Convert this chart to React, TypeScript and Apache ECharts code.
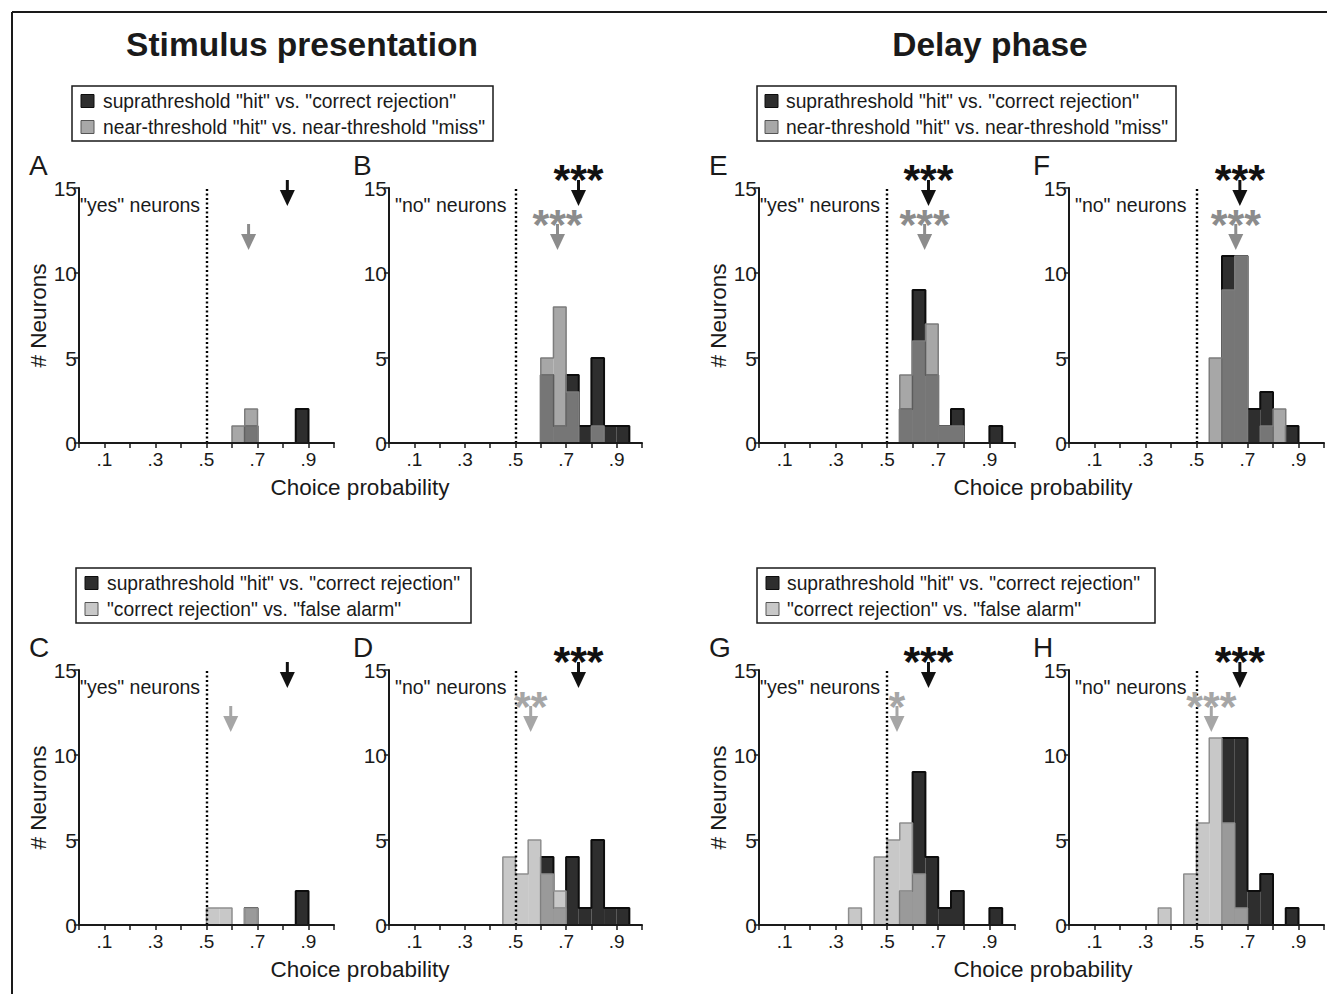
import React, { useEffect, useRef } from "react";
import * as echarts from "echarts";

// ---------- DATA ----------
const binStarts = [0, 0.05, 0.1, 0.15, 0.2, 0.25, 0.3, 0.35, 0.4, 0.45, 0.5, 0.55, 0.6, 0.65, 0.7, 0.75, 0.8, 0.85, 0.9, 0.95];
const BIN_W = 0.05;
const xTickLabels = [".1", ".3", ".5", ".7", ".9"];
const yTicks = [0, 5, 10, 15];

// Stimulus presentation, "yes" neurons
const A_supra = [0, 0, 0, 0, 0, 0, 0, 0, 0, 0, 0, 0, 0, 1, 0, 0, 0, 2, 0, 0];
const A_near = [0, 0, 0, 0, 0, 0, 0, 0, 0, 0, 0, 0, 1, 2, 0, 0, 0, 0, 0, 0];
// Stimulus presentation, "no" neurons
const B_supra = [0, 0, 0, 0, 0, 0, 0, 0, 0, 0, 0, 0, 4, 1, 4, 1, 5, 1, 1, 0];
const B_near = [0, 0, 0, 0, 0, 0, 0, 0, 0, 0, 0, 0, 5, 8, 3, 0, 1, 0, 0, 0];
const C_supra = [0, 0, 0, 0, 0, 0, 0, 0, 0, 0, 0, 0, 0, 1, 0, 0, 0, 2, 0, 0];
const C_cr = [0, 0, 0, 0, 0, 0, 0, 0, 0, 0, 1, 1, 0, 1, 0, 0, 0, 0, 0, 0];
const D_supra = [0, 0, 0, 0, 0, 0, 0, 0, 0, 0, 0, 0, 4, 1, 4, 1, 5, 1, 1, 0];
const D_cr = [0, 0, 0, 0, 0, 0, 0, 0, 0, 4, 3, 5, 3, 2, 0, 0, 0, 0, 0, 0];
// Delay phase
const E_supra = [0, 0, 0, 0, 0, 0, 0, 0, 0, 0, 0, 2, 9, 4, 1, 2, 0, 0, 1, 0];
const E_near = [0, 0, 0, 0, 0, 0, 0, 0, 0, 0, 0, 4, 6, 7, 1, 1, 0, 0, 0, 0];
const F_supra = [0, 0, 0, 0, 0, 0, 0, 0, 0, 0, 0, 0, 11, 11, 2, 3, 0, 1, 0, 0];
const F_near = [0, 0, 0, 0, 0, 0, 0, 0, 0, 0, 0, 5, 9, 11, 0, 1, 2, 0, 0, 0];
const G_supra = [0, 0, 0, 0, 0, 0, 0, 0, 0, 0, 0, 2, 9, 4, 1, 2, 0, 0, 1, 0];
const G_cr = [0, 0, 0, 0, 0, 0, 0, 1, 0, 4, 5, 6, 3, 0, 0, 0, 0, 0, 0, 0];
const H_supra = [0, 0, 0, 0, 0, 0, 0, 0, 0, 0, 0, 0, 11, 11, 2, 3, 0, 1, 0, 0];
const H_cr = [0, 0, 0, 0, 0, 0, 0, 1, 0, 3, 6, 11, 6, 1, 0, 0, 0, 0, 0, 0];

// mean choice probabilities (arrows), panels A..H
const meanSupra = [0.817, 0.749, 0.817, 0.749, 0.662, 0.67, 0.662, 0.67];
const meanOther = [0.665, 0.666, 0.595, 0.56, 0.647, 0.654, 0.539, 0.558];
const starsSupra = ["", "***", "", "***", "***", "***", "***", "***"];
const starsOther = ["", "***", "", "**", "***", "***", "*", "***"];

const legendSupra = 'suprathreshold "hit" vs. "correct rejection"';
const legendNear = 'near-threshold "hit" vs. near-threshold "miss"';
const legendCR = '"correct rejection" vs. "false alarm"';

// ---------- STYLE / LAYOUT ----------
const FONT = '"Liberation Sans", Arial, Helvetica, sans-serif';
const INK = "#1a1a1a";
const DARK_FILL = "#2e2e2e";
const DARK_STROKE = "#0d0d0d";
const NEAR = { fill: "rgba(141,141,141,0.77)", stroke: "#7c7c7c", solid: "#a8a8a8", arrow: "#8c8c8c" };
const CR = { fill: "rgba(184,184,184,0.78)", stroke: "#8e8e8e", solid: "#c8c8c8", arrow: "#a6a6a6" };

const ROW_TOP = [188, 670];
const PLOT_H = 255;

const panels = [
  { letter: "A", left: 79, width: 255, row: 0, supra: A_supra, other: A_near, pal: NEAR, kind: "yes", yName: true },
  { letter: "B", left: 389, width: 253, row: 0, supra: B_supra, other: B_near, pal: NEAR, kind: "no", yName: false },
  { letter: "C", left: 79, width: 255, row: 1, supra: C_supra, other: C_cr, pal: CR, kind: "yes", yName: true },
  { letter: "D", left: 389, width: 253, row: 1, supra: D_supra, other: D_cr, pal: CR, kind: "no", yName: false },
  { letter: "E", left: 759, width: 256, row: 0, supra: E_supra, other: E_near, pal: NEAR, kind: "yes", yName: true },
  { letter: "F", left: 1069, width: 255, row: 0, supra: F_supra, other: F_near, pal: NEAR, kind: "no", yName: false },
  { letter: "G", left: 759, width: 256, row: 1, supra: G_supra, other: G_cr, pal: CR, kind: "yes", yName: true },
  { letter: "H", left: 1069, width: 255, row: 1, supra: H_supra, other: H_cr, pal: CR, kind: "no", yName: false },
];

function barData(counts: number[]) {
  return binStarts
    .map((s, j) => [s, s + BIN_W, counts[j]])
    .filter((d) => d[2] > 0);
}

function outline(counts: number[]) {
  const pts: any[] = [];
  let inRun = false;
  for (let j = 0; j < counts.length; j++) {
    const c = counts[j];
    const s = binStarts[j];
    if (c > 0) {
      if (!inRun) {
        pts.push([s, 0]);
        inRun = true;
      }
      pts.push([s, c]);
      pts.push([s + BIN_W, c]);
    } else if (inRun) {
      pts.push([s, 0]);
      pts.push(["-", "-"]);
      inRun = false;
    }
  }
  if (inRun) pts.push([binStarts[binStarts.length - 1] + BIN_W, 0]);
  return pts;
}

function rectRenderer(fill: string) {
  return (params: any, api: any) => {
    const p0 = api.coord([api.value(0), api.value(2)]);
    const p1 = api.coord([api.value(1), 0]);
    return {
      type: "rect",
      shape: { x: p0[0], y: p0[1], width: p1[0] - p0[0], height: p1[1] - p0[1] },
      style: { fill },
    };
  };
}

function buildOption() {
  const grid: any[] = [];
  const xAxis: any[] = [];
  const yAxis: any[] = [];
  const series: any[] = [];
  const graphic: any[] = [];

  panels.forEach((p, i) => {
    const top = ROW_TOP[p.row];
    grid.push({ left: p.left, top, width: p.width, height: PLOT_H, show: false, containLabel: false });
    xAxis.push({
      type: "value",
      gridIndex: i,
      min: 0,
      max: 1,
      interval: 0.1,
      z: 10,
      splitLine: { show: false },
      axisLine: { onZero: false, lineStyle: { color: INK, width: 2 } },
      axisTick: { length: 5, lineStyle: { color: INK, width: 1.5 } },
      axisLabel: {
        fontFamily: FONT,
        fontSize: 19,
        color: INK,
        margin: 7,
        formatter: (v: number) => {
          const k = Math.round(v * 10);
          return k % 2 === 1 ? xTickLabels[(k - 1) / 2] : "";
        },
      },
    });
    yAxis.push({
      type: "value",
      gridIndex: i,
      min: 0,
      max: 15,
      interval: 5,
      z: 10,
      splitLine: { show: false },
      axisLine: { lineStyle: { color: INK, width: 2 } },
      axisTick: { length: 5, lineStyle: { color: INK, width: 1.5 } },
      axisLabel: {
        fontFamily: FONT,
        fontSize: 21,
        color: INK,
        margin: 2,
        formatter: (v: number) => (yTicks.indexOf(v) >= 0 ? String(v) : ""),
      },
    });

    series.push({
      type: "custom",
      name: p.letter + " supra",
      xAxisIndex: i,
      yAxisIndex: i,
      z: 2,
      encode: { x: [0, 1], y: 2 },
      data: barData(p.supra),
      renderItem: rectRenderer(DARK_FILL),
    });
    series.push({
      type: "line",
      xAxisIndex: i,
      yAxisIndex: i,
      z: 3,
      symbol: "none",
      showSymbol: false,
      connectNulls: false,
      data: outline(p.supra),
      lineStyle: { color: DARK_STROKE, width: 2 },
      markLine: {
        silent: true,
        symbol: "none",
        animation: false,
        label: { show: false },
        lineStyle: { color: "#000", width: 2.4, type: [2, 2.5] },
        data: [{ xAxis: 0.5 }],
        z: 7,
      },
    });
    series.push({
      type: "custom",
      name: p.letter + " other",
      xAxisIndex: i,
      yAxisIndex: i,
      z: 4,
      encode: { x: [0, 1], y: 2 },
      data: barData(p.other),
      renderItem: rectRenderer(p.pal.fill),
    });
    series.push({
      type: "line",
      xAxisIndex: i,
      yAxisIndex: i,
      z: 5,
      symbol: "none",
      showSymbol: false,
      connectNulls: false,
      data: outline(p.other),
      lineStyle: { color: p.pal.stroke, width: 1.5 },
    });
    const stars = [starsSupra[i], starsOther[i]];
    series.push({
      type: "custom",
      xAxisIndex: i,
      yAxisIndex: i,
      z: 8,
      clip: false,
      encode: { x: 0, y: 1 },
      data: [
        [meanSupra[i], 15],
        [meanOther[i], 15],
      ],
      renderItem: (params: any, api: any) => {
        const t = api.coord([api.value(0), api.value(1)]);
        const k = params.dataIndex;
        const color = k === 0 ? "#111111" : p.pal.arrow;
        const y0 = k === 0 ? t[1] - 8 : t[1] + 36;
        const tip = y0 + 26;
        const headBase = tip - 16;
        const cx = t[0];
        const children: any[] = [
          { type: "rect", shape: { x: cx - 1.5, y: y0, width: 3, height: headBase - y0 + 1 }, style: { fill: color } },
          {
            type: "polygon",
            shape: { points: [[cx - 7.5, headBase], [cx + 7.5, headBase], [cx, tip]] },
            style: { fill: color },
          },
        ];
        if (stars[k]) {
          children.push({
            type: "text",
            x: cx,
            y: k === 0 ? t[1] - 9 : t[1] + 36,
            style: {
              text: stars[k],
              fill: color,
              font: "bold 43px " + FONT,
              textAlign: "center",
              textVerticalAlign: "middle",
            },
          });
        }
        return { type: "group", children };
      },
    });

    // panel letter
    graphic.push({
      type: "text",
      x: p.left - (p.kind === "yes" ? 50 : 36),
      y: top - 23,
      style: { text: p.letter, font: "28px " + FONT, fill: INK, textAlign: "left", textVerticalAlign: "middle" },
    });
    // neurons label
    graphic.push({
      type: "text",
      x: p.left + (p.kind === "yes" ? 1 : 6),
      y: top + 17,
      style: {
        text: p.kind === "yes" ? '"yes" neurons' : '"no" neurons',
        font: "19.5px " + FONT,
        fill: INK,
        textAlign: "left",
        textVerticalAlign: "middle",
      },
    });
    if (p.yName) {
      graphic.push({
        type: "text",
        x: p.left - 41,
        y: top + PLOT_H / 2,
        rotation: Math.PI / 2,
        style: { text: "# Neurons", font: "22.5px " + FONT, fill: INK, textAlign: "center", textVerticalAlign: "middle" },
      });
    }
  });

  // x axis names (shared per pair)
  [
    [360, 487],
    [1043, 487],
    [360, 969],
    [1043, 969],
  ].forEach(([x, y]) => {
    graphic.push({
      type: "text",
      x,
      y,
      style: { text: "Choice probability", font: "22.5px " + FONT, fill: INK, textAlign: "center", textVerticalAlign: "middle" },
    });
  });

  // titles
  graphic.push({
    type: "text",
    x: 302,
    y: 44,
    style: { text: "Stimulus presentation", font: "bold 33.5px " + FONT, fill: INK, textAlign: "center", textVerticalAlign: "middle" },
  });
  graphic.push({
    type: "text",
    x: 990,
    y: 44,
    style: { text: "Delay phase", font: "bold 33.5px " + FONT, fill: INK, textAlign: "center", textVerticalAlign: "middle" },
  });

  // frame lines
  graphic.push({ type: "line", shape: { x1: 12, y1: 12, x2: 1327, y2: 12 }, style: { stroke: INK, lineWidth: 2 } });
  graphic.push({ type: "line", shape: { x1: 12, y1: 12, x2: 12, y2: 994 }, style: { stroke: INK, lineWidth: 2 } });

  // legends
  const legends = [
    { x: 72, y: 86, w: 421, sq: 81, tx: 103, second: legendNear, pal: NEAR },
    { x: 757, y: 86, w: 419, sq: 765, tx: 786, second: legendNear, pal: NEAR },
    { x: 76, y: 568, w: 395, sq: 85, tx: 107, second: legendCR, pal: CR },
    { x: 757, y: 568, w: 398, sq: 766, tx: 787, second: legendCR, pal: CR },
  ];
  legends.forEach((L) => {
    graphic.push({
      type: "rect",
      shape: { x: L.x, y: L.y, width: L.w, height: 55 },
      style: { fill: "#fff", stroke: INK, lineWidth: 1.5 },
    });
    const rows = [
      { text: legendSupra, fill: DARK_FILL, stroke: DARK_STROKE },
      { text: L.second, fill: L.pal.solid, stroke: "#555" },
    ];
    rows.forEach((r, k) => {
      const cy = L.y + 15 + k * 26;
      graphic.push({
        type: "rect",
        shape: { x: L.sq, y: cy - 6.5, width: 13, height: 13 },
        style: { fill: r.fill, stroke: r.stroke, lineWidth: 1 },
      });
      graphic.push({
        type: "text",
        x: L.tx,
        y: cy,
        style: { text: r.text, font: "19.3px " + FONT, fill: INK, textAlign: "left", textVerticalAlign: "middle" },
      });
    });
  });

  return {
    animation: false,
    backgroundColor: "#ffffff",
    grid,
    xAxis,
    yAxis,
    series,
    graphic,
  };
}

export default function App() {
  const ref = useRef<HTMLDivElement>(null);
  useEffect(() => {
    document.body.style.margin = "0";
    if (!ref.current) return;
    const chart = echarts.init(ref.current, undefined, { renderer: "svg" });
    chart.setOption(buildOption() as any);
    return () => chart.dispose();
  }, []);
  return <div ref={ref} style={{ width: 1327, height: 994 }} />;
}
